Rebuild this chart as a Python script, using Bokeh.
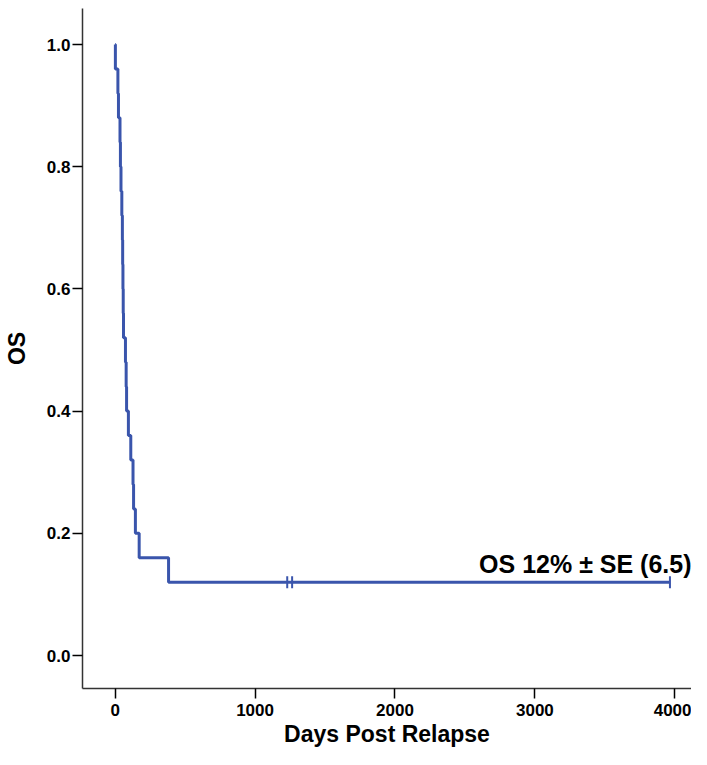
import math
from bokeh.plotting import figure
from bokeh.models import FixedTicker, PrintfTickFormatter, Label, Range1d
from bokeh.embed import file_html
from bokeh.resources import INLINE

# ---- data ----
n_patients = 25
event_days = [2, 20, 24, 35, 38, 42, 48, 52, 54, 56, 58, 60, 74, 79, 82,
              95, 112, 128, 132, 145, 172, 382]
censor_days = [1230, 1265, 3965]
x_ticks = [0, 1000, 2000, 3000, 4000]
y_ticks = [0.0, 0.2, 0.4, 0.6, 0.8, 1.0]
annotation = "OS 12% \u00b1 SE (6.5)"
x_title = "Days Post Relapse"
y_title = "OS"

# ---- Kaplan-Meier estimate ----
at_risk = n_patients
surv = 1.0
xs = [0]
ys = [1.0]
for t in sorted(event_days):
    surv = surv * (at_risk - 1) / at_risk
    at_risk -= 1
    xs.append(t)
    ys.append(surv)
xs.append(max(censor_days))
ys.append(surv)
censor_y = [surv] * len(censor_days)

BLUE = "#3A55AC"
FONT = "Liberation Sans"
X0, X1 = -233, 4119
Y0, Y1 = -0.054, 1.059

p = figure(width=691, height=749, output_backend="svg", toolbar_location=None,
           x_range=Range1d(X0, X1), y_range=Range1d(Y0, Y1),
           min_border_left=76, min_border_right=0, min_border_top=8,
           min_border_bottom=60)
p.outline_line_color = None
p.xgrid.visible = False
p.ygrid.visible = False

p.step(xs, ys, mode="after", line_color=BLUE, line_width=3)
p.scatter(censor_days, censor_y, marker="dash", angle=math.pi / 2, size=12,
          line_color=BLUE, line_width=2)

p.add_layout(Label(x=X1, y=0.150, text=annotation, text_align="right",
                   text_baseline="alphabetic", text_font=FONT,
                   text_font_style="bold", text_font_size="25px",
                   text_color="black"))

for ax in (p.xaxis[0], p.yaxis[0]):
    ax.axis_line_color = "#333333"
    ax.axis_line_width = 1.5
    ax.major_tick_line_color = "black"
    ax.major_tick_line_width = 1.5
    ax.major_tick_out = 10
    ax.major_tick_in = 0
    ax.minor_tick_line_color = None
    ax.major_label_text_font = FONT
    ax.major_label_text_font_style = "bold"
    ax.major_label_text_font_size = "17px"
    ax.major_label_text_color = "black"
    ax.axis_label_text_font = FONT
    ax.axis_label_text_font_style = "bold"
    ax.axis_label_text_font_size = "23px"
    ax.axis_label_text_color = "black"

p.xaxis.ticker = FixedTicker(ticks=x_ticks)
p.yaxis.ticker = FixedTicker(ticks=y_ticks)
p.yaxis.formatter = PrintfTickFormatter(format="%.1f")
p.xaxis.axis_label = x_title
p.yaxis.axis_label = y_title
p.xaxis.major_label_standoff = 5
p.xaxis.axis_label_standoff = 2
p.yaxis.major_label_standoff = 2
p.yaxis.axis_label_standoff = 14

open("out.html", "w").write(file_html(p, INLINE))
